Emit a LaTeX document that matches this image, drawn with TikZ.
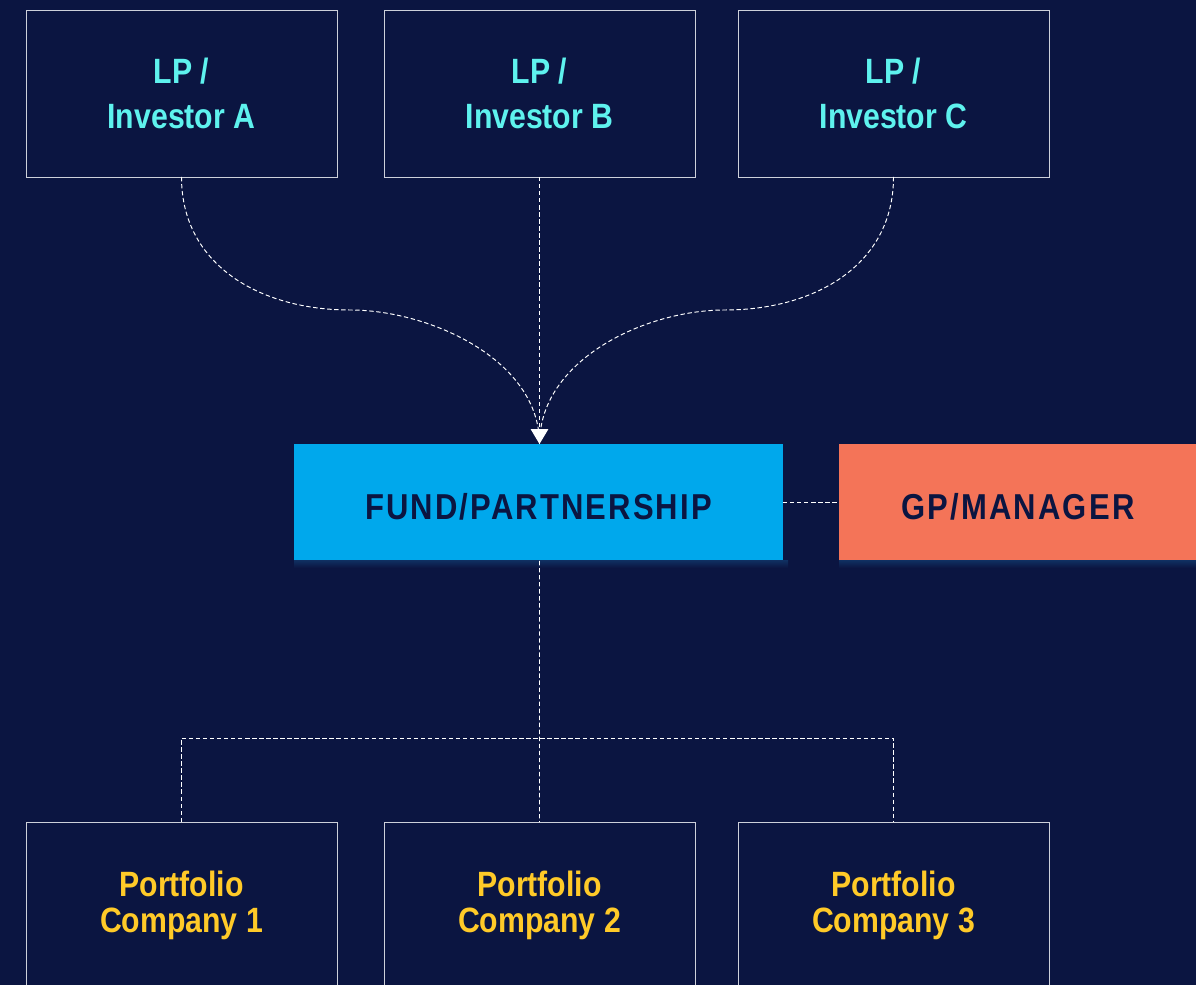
\documentclass[tikz,border=0pt]{standalone}
\usepackage{fontspec}
\setmainfont{Liberation Sans}
\newfontfamily\boxfont[FakeStretch=0.86]{Liberation Sans}
\newfontfamily\capsfont[FakeStretch=0.86,LetterSpace=6]{Liberation Sans}
\usetikzlibrary{positioning}
\usetikzlibrary{calc,arrows.meta}

\definecolor{navy}{HTML}{0B1541}
\definecolor{fundblue}{HTML}{00A8EC}
\definecolor{gporange}{HTML}{F47458}
\definecolor{lpcyan}{HTML}{5EF2EE}
\definecolor{pcyellow}{HTML}{FFCA28}
\definecolor{edge}{HTML}{CDD0DA}
\definecolor{glow}{HTML}{0F2D5E}

\begin{document}
\begin{tikzpicture}[every node/.style={outer sep=0pt},
		holder/.style={draw=edge,line width=0.5pt,minimum width=6.22cm,minimum height=3.34cm,align=center},
		lp/.style={holder,text=lpcyan,font=\boxfont\bfseries\fontsize{20}{25.6}\selectfont},
		company/.style={holder,text=pcyellow,font=\boxfont\bfseries\fontsize{20}{20.5}\selectfont},
		entity/.style={minimum height=2.34cm,text=navy,text height=0.69cm,text depth=0pt,
		font=\capsfont\bfseries\fontsize{20.5}{24}\selectfont},
		link/.style={draw=white,line width=0.55pt,dash pattern=on 2.5pt off 1.5pt},
		]
		\fill[navy] (0,0) rectangle (23.92,-19.7);
		\clip (0,0) rectangle (23.92,-19.7);

		% investors on top
		\node[lp] (lpA) at (3.63,-1.87) {LP /\\Investor A};
		\node[lp,right=0.94cm of lpA] (lpB) {LP /\\Investor B};
		\node[lp,right=0.86cm of lpB] (lpC) {LP /\\Investor C};

		% the fund and its manager
		\node[entity,fill=fundblue,minimum width=9.78cm] (fund) at (10.77,-10.05) {FUND/PARTNERSHIP};
		\node[entity,fill=gporange,minimum width=7.16cm] (gp) at (20.36,-10.05) {GP/MANAGER};
		\shade[top color=glow,bottom color=navy] (fund.south west) rectangle ($(fund.south east)+(0.1,-0.14)$);
		\shade[top color=glow,bottom color=navy] (gp.south west) rectangle ($(gp.south east)+(0,-0.14)$);

		% portfolio companies
		\node[company] (pc1) at (3.63,-18.11) {Portfolio\\Company 1};
		\node[company] (pc2) at (10.79,-18.11) {Portfolio\\Company 2};
		\node[company] (pc3) at (17.87,-18.11) {Portfolio\\Company 3};

		% capital flowing in
		\coordinate (tip) at (fund.north -| lpB.south);
		\draw[link] (lpA.south) .. controls (3.63,-5.3) and (5.2,-6.2) .. (7.0,-6.2)
			.. controls (8.6,-6.2) and (10.79,-7.2) .. (tip);
		\draw[link] (lpC.south) .. controls (17.87,-5.3) and (16.3,-6.2) .. (14.5,-6.2)
			.. controls (12.9,-6.2) and (10.79,-7.2) .. (tip);
		\draw[link,-{Triangle[width=10pt,length=8.5pt]}] (lpB.south) -- (tip);

		\draw[link] (fund.east) -- (gp.west);

		% investments going out
		\coordinate (bus) at (10.79,-14.76);
		\draw[link] (fund.south -| lpB.south) -- (pc2.north);
		\draw[link] (pc1.north) |- (bus) -| (pc3.north);
\end{tikzpicture}
\end{document}
